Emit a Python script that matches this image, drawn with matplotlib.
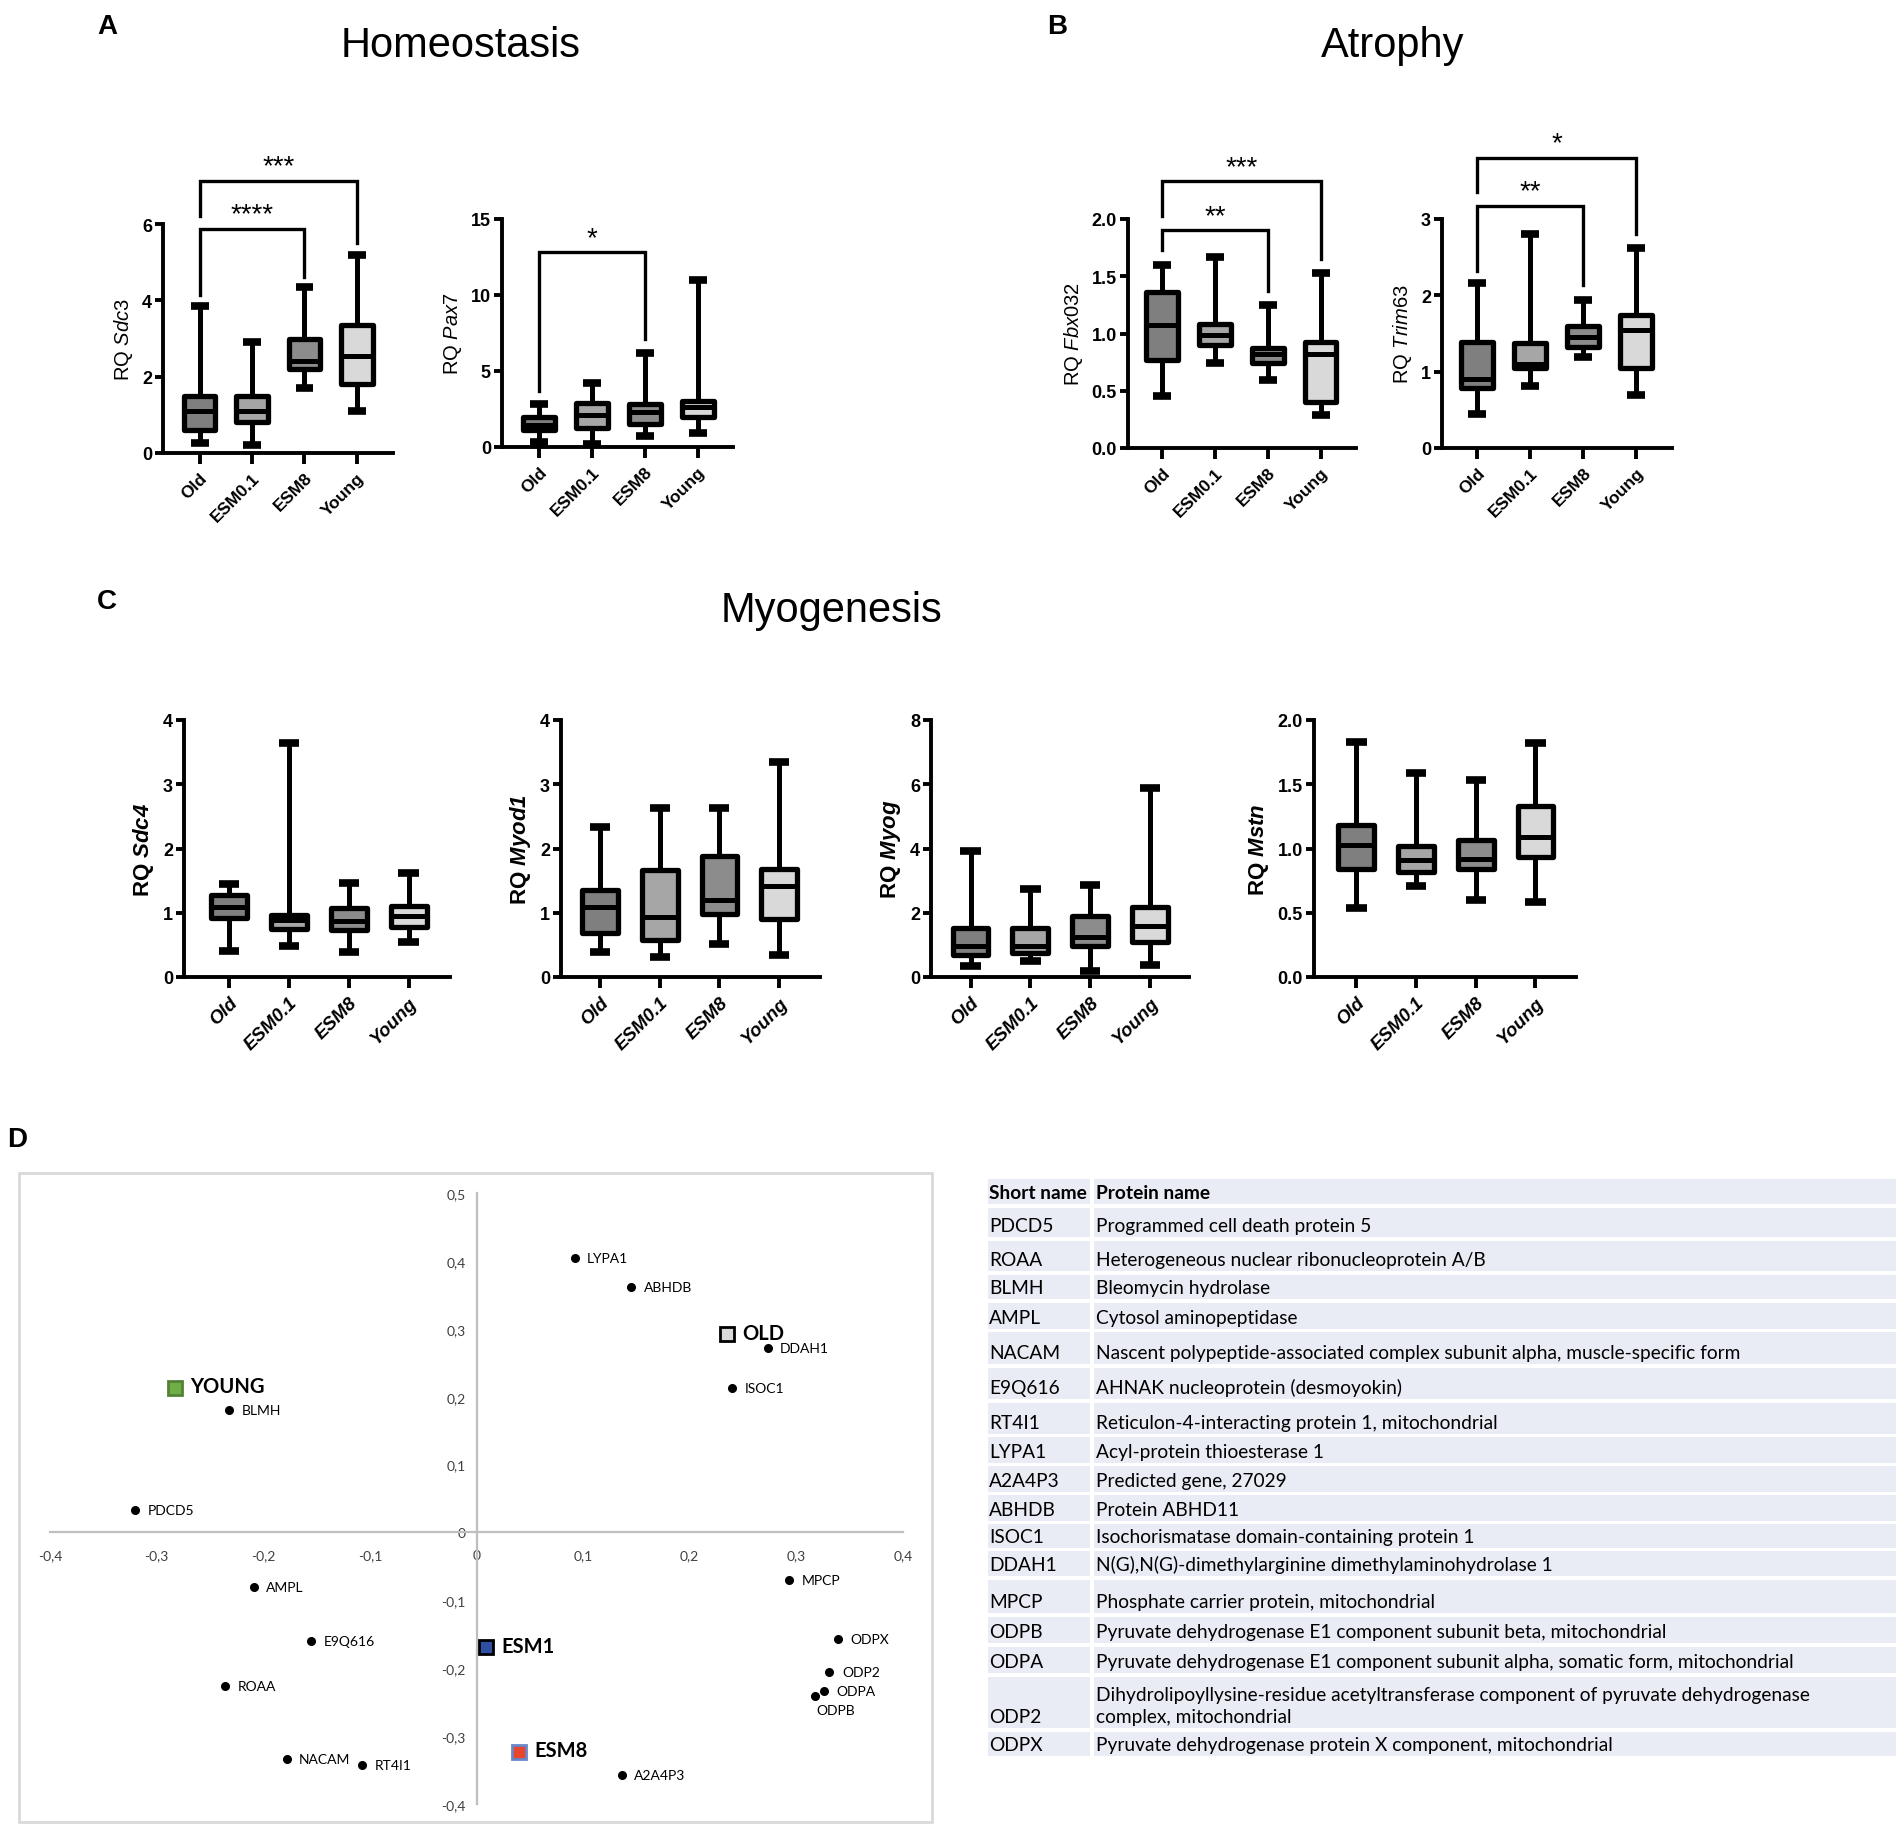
import matplotlib
matplotlib.use('Agg')
import matplotlib.pyplot as plt
from matplotlib.patches import Rectangle
from matplotlib.ticker import FuncFormatter

plt.rcParams['font.family'] = ['Liberation Sans', 'DejaVu Sans']
plt.rcParams['mathtext.fontset'] = 'custom'
plt.rcParams['mathtext.rm'] = 'Liberation Sans'
plt.rcParams['mathtext.it'] = 'Liberation Sans:italic'
plt.rcParams['mathtext.bf'] = 'Liberation Sans:bold'
plt.rcParams['mathtext.bfit'] = 'Liberation Sans:italic:bold'

# ---- DATA ----
groups = ['Old', 'ESM0.1', 'ESM8', 'Young']
box_colors = ['#7f7f7f', '#a6a6a6', '#8c8c8c', '#d9d9d9']

# per group: whisker low, q1, median, q3, whisker high
sdc3 = [[0.25, 0.6, 1.1, 1.5, 3.85], [0.2, 0.8, 1.1, 1.5, 2.9],
        [1.7, 2.2, 2.4, 3.0, 4.35], [1.1, 1.8, 2.55, 3.35, 5.2]]
pax7 = [[0.3, 1.1, 1.45, 2.0, 2.8], [0.2, 1.25, 2.1, 2.9, 4.2],
        [0.7, 1.5, 2.3, 2.85, 6.2], [0.9, 2.0, 2.6, 3.05, 11.0]]
fbx032 = [[0.45, 0.77, 1.07, 1.36, 1.60], [0.74, 0.90, 0.99, 1.08, 1.67],
          [0.59, 0.74, 0.82, 0.87, 1.25], [0.29, 0.40, 0.82, 0.93, 1.53]]
trim63 = [[0.44, 0.79, 0.91, 1.39, 2.16], [0.81, 1.05, 1.10, 1.37, 2.81],
          [1.19, 1.32, 1.45, 1.60, 1.94], [0.70, 1.05, 1.54, 1.74, 2.62]]
sdc4 = [[0.41, 0.92, 1.09, 1.27, 1.44], [0.49, 0.75, 0.88, 0.97, 3.64],
        [0.39, 0.73, 0.87, 1.07, 1.47], [0.54, 0.78, 0.95, 1.11, 1.62]]
myod1 = [[0.39, 0.69, 1.09, 1.36, 2.34], [0.31, 0.57, 0.94, 1.67, 2.63],
         [0.52, 0.98, 1.20, 1.88, 2.63], [0.34, 0.90, 1.42, 1.68, 3.35]]
myog = [[0.34, 0.69, 0.98, 1.52, 3.92], [0.50, 0.76, 0.98, 1.52, 2.73],
        [0.19, 0.98, 1.25, 1.90, 2.85], [0.36, 1.09, 1.58, 2.18, 5.88]]
mstn = [[0.54, 0.84, 1.03, 1.185, 1.83], [0.71, 0.82, 0.91, 1.02, 1.59],
        [0.60, 0.84, 0.92, 1.07, 1.53], [0.58, 0.93, 1.09, 1.33, 1.82]]

# significance brackets: (group a, group b, bracket top, leg a end, leg b end, stars)
sdc3_sig = [(0, 2, 5.87, 4.15, 4.6, '****'), (0, 3, 7.13, 6.2, 5.5, '***')]
pax7_sig = [(0, 2, 12.8, 3.7, 7.1, '*')]
fbx032_sig = [(0, 2, 1.90, 1.73, 1.37, '**'), (0, 3, 2.33, 2.03, 1.65, '***')]
trim63_sig = [(0, 2, 3.17, 2.32, 2.13, '**'), (0, 3, 3.80, 3.35, 2.80, '*')]

# panel D loadings
prot_names = ['LYPA1', 'ABHDB', 'DDAH1', 'ISOC1', 'BLMH', 'PDCD5', 'AMPL', 'MPCP', 'E9Q616',
              'ODPX', 'ODP2', 'ODPA', 'ODPB', 'ROAA', 'NACAM', 'RT4I1', 'A2A4P3']
prot_x = [0.092, 0.145, 0.273, 0.240, -0.232, -0.320, -0.209, 0.293, -0.155,
          0.339, 0.331, 0.326, 0.317, -0.236, -0.178, -0.107, 0.136]
prot_y = [0.404, 0.362, 0.272, 0.213, 0.181, 0.033, -0.080, -0.070, -0.160,
          -0.157, -0.206, -0.234, -0.241, -0.226, -0.333, -0.343, -0.358]
grp_names = ['YOUNG', 'OLD', 'ESM1', 'ESM8']
grp_x = [-0.283, 0.235, 0.009, 0.040]
grp_y = [0.213, 0.292, -0.169, -0.323]
grp_face = ['#70ad47', '#d9d9d9', '#2f4fa2', '#e8452c']
grp_edge = ['#548235', '#000000', '#000000', '#6a86c8']

table_short = ['PDCD5', 'ROAA', 'BLMH', 'AMPL', 'NACAM', 'E9Q616', 'RT4I1', 'LYPA1', 'A2A4P3',
               'ABHDB', 'ISOC1', 'DDAH1', 'MPCP', 'ODPB', 'ODPA', 'ODP2', 'ODPX']
table_long = ['Programmed cell death protein 5',
              'Heterogeneous nuclear ribonucleoprotein A/B',
              'Bleomycin hydrolase',
              'Cytosol aminopeptidase',
              'Nascent polypeptide-associated complex subunit alpha, muscle-specific form',
              'AHNAK nucleoprotein (desmoyokin)',
              'Reticulon-4-interacting protein 1, mitochondrial',
              'Acyl-protein thioesterase 1',
              'Predicted gene, 27029',
              'Protein ABHD11',
              'Isochorismatase domain-containing protein 1',
              'N(G),N(G)-dimethylarginine dimethylaminohydrolase 1',
              'Phosphate carrier protein, mitochondrial',
              'Pyruvate dehydrogenase E1 component subunit beta, mitochondrial',
              'Pyruvate dehydrogenase E1 component subunit alpha, somatic form, mitochondrial',
              'Dihydrolipoyllysine-residue acetyltransferase component of pyruvate dehydrogenase\ncomplex, mitochondrial',
              'Pyruvate dehydrogenase protein X component, mitochondrial']

# ---- FIGURE ----
W, H = 1902, 1831
fig = plt.figure(figsize=(W / 100, H / 100), dpi=100)

ov = fig.add_axes([0, 0, 1, 1])
ov.set_xlim(0, W)
ov.set_ylim(H, 0)
ov.axis('off')


def add_ax(x0, x1, ytop, ybot):
    return fig.add_axes([x0 / W, 1 - ybot / H, (x1 - x0) / W, (ybot - ytop) / H])


def box_panel(ax, data, ymax, yticks, gene, xlim, sig=None, bold=False, yfmt=None):
    stats = [dict(label=g, whislo=v[0], q1=v[1], med=v[2], q3=v[3], whishi=v[4])
             for g, v in zip(groups, data)]
    bp = ax.bxp(stats, positions=range(4), widths=0.6, capwidths=0.34, showfliers=False,
                patch_artist=True,
                boxprops=dict(lw=3.8, edgecolor='black', joinstyle='round'),
                whiskerprops=dict(lw=3.6, color='black'),
                capprops=dict(lw=5.5, color='black', solid_capstyle='butt'),
                medianprops=dict(lw=3.6, color='black'))
    for p, c in zip(bp['boxes'], box_colors):
        p.set_facecolor(c)
    ax.set_ylim(0, ymax)
    ax.set_xlim(*xlim)
    ax.set_yticks(yticks)
    if yfmt:
        ax.set_yticklabels([yfmt.format(t) for t in yticks])
    ax.spines[['top', 'right']].set_visible(False)
    ax.spines[['left', 'bottom']].set_linewidth(2.8)
    ax.tick_params(width=2.8, length=6, pad=2)
    ax.tick_params(axis='x', length=8, pad=4)
    for t in ax.get_yticklabels():
        t.set_family(['Liberation Sans Narrow', 'Liberation Sans'])
        t.set_fontweight('bold')
        t.set_fontsize(13)
    ax.set_xticks(range(4))
    if bold:
        ax.set_xticklabels(groups, rotation=45, ha='right', rotation_mode='anchor',
                           fontsize=13.5, fontweight='bold', style='italic')
        ax.set_ylabel('RQ $\\mathbfit{' + gene + '}$', fontsize=16, fontweight='bold', labelpad=5)
    else:
        ax.set_xticklabels(groups, rotation=45, ha='right', rotation_mode='anchor',
                           fontsize=12.5, fontweight='semibold')
        ax.set_ylabel('RQ $\\it{' + gene + '}$', fontsize=14.5, labelpad=5)
    if sig:
        for a, b, top, la, lb, stars in sig:
            ax.plot([a, a, b, b], [la, top, top, lb], color='black', lw=2.4,
                    clip_on=False, solid_joinstyle='miter')
            ax.annotate(stars, xy=((a + b) / 2, top), xytext=(0, 1), textcoords='offset points',
                        ha='center', va='bottom', fontsize=20, annotation_clip=False)


ax = add_ax(163, 393, 225, 454)
box_panel(ax, sdc3, 6, [0, 2, 4, 6], 'Sdc3', (-0.7, 3.69), sdc3_sig)
ax = add_ax(502, 733, 220, 448)
box_panel(ax, pax7, 15, [0, 5, 10, 15], 'Pax7', (-0.7, 3.66), pax7_sig)
ax = add_ax(1128, 1356, 220, 449)
box_panel(ax, fbx032, 2, [0, 0.5, 1, 1.5, 2], 'Fbx032', (-0.645, 3.67), fbx032_sig, yfmt='{:.1f}')
ax = add_ax(1442, 1672, 220, 449)
box_panel(ax, trim63, 3, [0, 1, 2, 3], 'Trim63', (-0.655, 3.67), trim63_sig)

ax = add_ax(184, 450, 721, 978)
box_panel(ax, sdc4, 4, [0, 1, 2, 3, 4], 'Sdc4', (-0.75, 3.69), bold=True)
ax = add_ax(561, 820, 721, 978)
box_panel(ax, myod1, 4, [0, 1, 2, 3, 4], 'Myod1', (-0.66, 3.69), bold=True)
ax = add_ax(931, 1189, 721, 978)
box_panel(ax, myog, 8, [0, 2, 4, 6, 8], 'Myog', (-0.66, 3.65), bold=True)
ax = add_ax(1314, 1576, 721, 978)
box_panel(ax, mstn, 2, [0, 0.5, 1, 1.5, 2], 'Mstn', (-0.71, 3.68), bold=True, yfmt='{:.1f}')

# panel letters and titles
for lab, x, y in [('A', 107, 27), ('B', 1057, 27), ('C', 107, 602), ('D', 17, 1140)]:
    ov.text(x, y, lab, fontsize=20, fontweight='bold', ha='center', va='center')
for tit, x, y in [('Homeostasis', 461, 46), ('Atrophy', 1393, 46), ('Myogenesis', 832, 611)]:
    ov.text(x, y, tit, fontsize=30, ha='center', va='center')

# ---- panel D scatter ----
ov.add_patch(Rectangle((19, 1174), 913, 649, fill=False, edgecolor='#d9d9d9', lw=2))
axd = add_ax(50, 903, 1194, 1805)
axd.set_xlim(-0.4, 0.4)
axd.set_ylim(-0.4, 0.5)
axd.spines[['top', 'right']].set_visible(False)
axd.spines['left'].set_position(('data', 0))
axd.spines['bottom'].set_position(('data', 0))
axd.spines[['left', 'bottom']].set_color('#bfbfbf')
axd.spines[['left', 'bottom']].set_linewidth(1.6)
axd.set_xticks([-0.4, -0.3, -0.2, -0.1, 0, 0.1, 0.2, 0.3, 0.4])
axd.set_yticks([-0.4, -0.3, -0.2, -0.1, 0, 0.1, 0.2, 0.3, 0.4, 0.5])
comma = FuncFormatter(lambda v, p: '0' if abs(v) < 1e-9 else f'{v:.1f}'.replace('.', ','))
axd.xaxis.set_major_formatter(comma)
axd.yaxis.set_major_formatter(comma)
axd.tick_params(axis='x', length=0, pad=12, labelsize=10, labelcolor='#404040')
axd.tick_params(axis='y', length=0, pad=8, labelsize=10, labelcolor='#404040')
for t in axd.get_xticklabels() + axd.get_yticklabels():
    t.set_family('Lato')
axd.patch.set_visible(False)

axd.plot(prot_x, prot_y, 'o', color='black', ms=5.5, zorder=3)
for n, x, y in zip(prot_names, prot_x, prot_y):
    if n == 'ODPB':
        axd.annotate(n, (x, y), xytext=(1, -6), textcoords='offset points', ha='left', va='top',
                     fontsize=10, family='Lato')
    else:
        axd.annotate(n, (x, y), xytext=(9, 0), textcoords='offset points', ha='left', va='center',
                     fontsize=10, family='Lato')
for n, x, y, fc, ec in zip(grp_names, grp_x, grp_y, grp_face, grp_edge):
    axd.plot([x], [y], 's', ms=10, mfc=fc, mec=ec, mew=2, zorder=4)
    axd.annotate(n, (x, y), xytext=(11, 1), textcoords='offset points', ha='left', va='center',
                 fontsize=14.5, fontweight='bold', family='Lato')

# ---- table ----
row_tops = [1180, 1209, 1242, 1276, 1304, 1333, 1369, 1404, 1438, 1467, 1496, 1525, 1552,
            1581, 1618, 1648, 1678, 1732.5]
row_bots = [1205, 1238, 1272, 1300, 1330, 1365, 1400, 1435, 1464, 1493, 1522, 1549, 1577,
            1614, 1644, 1674, 1729, 1757]
cell_fill = '#e9ebf5'
col1_l, col1_r, col2_l, col2_r = 988, 1090, 1094, 1896
rows = [('Short name', 'Protein name')] + list(zip(table_short, table_long))
for i, (s, l) in enumerate(rows):
    t, b = row_tops[i], row_bots[i]
    ov.add_patch(Rectangle((col1_l, t), col1_r - col1_l, b - t, color=cell_fill, lw=0))
    ov.add_patch(Rectangle((col2_l, t), col2_r - col2_l, b - t, color=cell_fill, lw=0))
    fw = 'bold' if i == 0 else 'normal'
    ov.text(col1_l + 1, b - 6, s, fontsize=13.8, family='Lato', fontweight=fw, va='baseline')
    ov.text(col2_l + 2, b - 6, l, fontsize=13.8, family='Lato', fontweight=fw, va='baseline',
            linespacing=1.35)

fig.savefig('out.png', dpi=100)
